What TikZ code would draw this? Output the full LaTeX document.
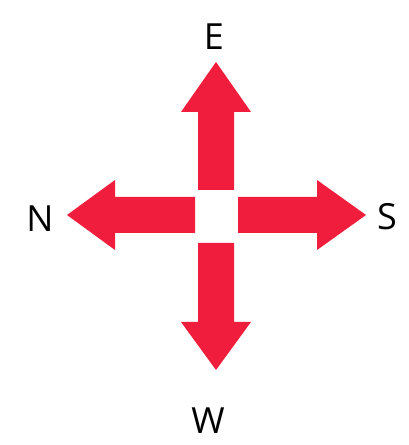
\documentclass[tikz,border=0pt]{standalone}
\usepackage{fontspec}
\setmainfont{Open Sans}
\usepackage{xcolor}
\definecolor{cmpred}{RGB}{240,30,60}
\usetikzlibrary{positioning}

\begin{document}
\begin{tikzpicture}[x=1pt, y=1pt,
  arrowfill/.style={fill=cmpred, draw=none},
  dirlabel/.style={font=\fontsize{36}{40}\selectfont, text=black, anchor=base, inner sep=0pt}
]
\useasboundingbox (0,0) rectangle (409,445);

% === Centre of the compass ===
\coordinate (c) at (216,230);

% === Four arrows (angle/gap/head base/tip) ===
\foreach \ang/\gap/\base/\tip in {0/22/101/150, 90/25/103/153, 180/21/101/149, 270/28/107/155}{
  \begin{scope}[shift={(c)}, rotate=\ang]
    \fill[arrowfill] (\gap,-18) -- (\base,-18) -- (\base,-35) -- (\tip,0)
      -- (\base,35) -- (\base,18) -- (\gap,18) -- cycle;
  \end{scope}
}

% === Direction labels ===
\node[dirlabel] (lblE) at (214,395) {E};
\node[dirlabel] (lblN) at (40,213) {N};
\node[dirlabel] (lblS) at (387,215) {S};
\node[dirlabel] (lblW) at (208,12) {W};

\end{tikzpicture}
\end{document}
